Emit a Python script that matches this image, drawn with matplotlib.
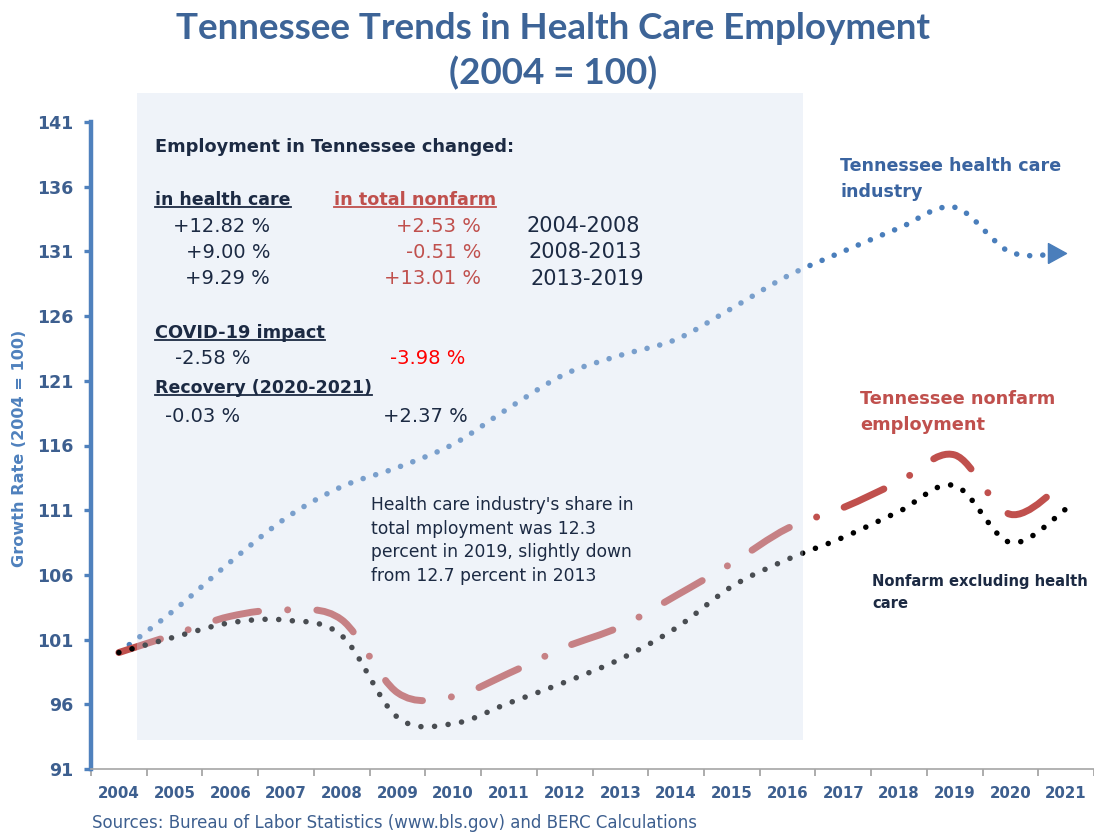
import numpy as np
import matplotlib
matplotlib.use("Agg")
import matplotlib.pyplot as plt
from matplotlib.path import Path
from matplotlib.patches import PathPatch, Rectangle
from matplotlib.lines import Line2D

plt.rcParams['font.family'] = ['DejaVu Sans']

# Index values, 2004 = 100
years = [str(y) for y in range(2004, 2022)]
health_care = [100.0, 103.3, 107.0, 110.4, 112.82, 114.3, 116.1, 118.9, 121.5,
               122.97, 124.2, 126.6, 129.1, 131.0, 132.8, 134.41, 130.94, 130.9]
nonfarm = [100.0, 101.4, 102.8, 103.3, 102.53, 96.9, 96.6, 98.4, 100.4,
           102.0, 104.4, 106.9, 109.6, 111.2, 113.2, 115.27, 110.68, 113.3]
nonfarm_ex_hc = [100.0, 101.2, 102.3, 102.5, 101.3, 95.0, 94.5, 96.1, 97.7,
                 99.5, 101.9, 105.1, 107.2, 108.9, 110.9, 112.9, 108.5, 111.1]
yticks = list(range(91, 142, 5))

W, H = 1094, 833
NAVY = '#1c2a43'
TICK_BLUE = '#3d5f8f'
RED = '#c0504d'


def F(x, y):
    # pixel position -> figure fraction
    return x / W, 1 - y / H


def smooth_path(xs, ys):
    # cubic bezier through every point (spreadsheet-style smoothed line)
    pts = np.column_stack([xs, ys]).astype(float)
    pad = np.vstack([pts[0], pts, pts[-1]])
    verts, codes = [pts[0]], [Path.MOVETO]
    for i in range(len(pts) - 1):
        p0, p1, p2, p3 = pad[i], pad[i + 1], pad[i + 2], pad[i + 3]
        verts += [p1 + (p2 - p0) / 6, p2 - (p3 - p1) / 6, p2]
        codes += [Path.CURVE4] * 3
    return Path(verts, codes)


fig = plt.figure(figsize=(W / 100, H / 100), dpi=100)
ax = fig.add_axes([91 / W, 1 - 769 / H, (W - 91) / W, (769 - 122) / H])

x = np.arange(len(years))

hc_line = PathPatch(smooth_path(x, health_care), fill=False, lw=4, color='#4a7ebb',
                    linestyle=(0, (0.01, 2.35)), capstyle='round', zorder=2)
nf_line = PathPatch(smooth_path(x, nonfarm), fill=False, lw=5, color=RED,
                    linestyle=(0, (6.3, 4.2, 0.01, 4.2)), capstyle='round', zorder=2.1)
ex_line = PathPatch(smooth_path(x, nonfarm_ex_hc), fill=False, lw=4, color='black',
                    linestyle=(0, (0.01, 2.45)), capstyle='round', zorder=2.2)
for p in (hc_line, nf_line, ex_line):
    ax.add_patch(p)

# arrow head on the health care series
ax.plot(x[-1], health_care[-1], linestyle='none', color='#4a7ebb', markersize=26,
        marker=[(-1, -0.55), (0, 0), (-1, 0.55), (-1, -0.55)], zorder=2)

# translucent panel behind the summary text
ax.add_patch(Rectangle((0.0459, 0.0448), 0.664, 1.0, transform=ax.transAxes,
                       facecolor='#d2ddee', alpha=0.35, edgecolor='none',
                       clip_on=False, zorder=3))

ax.set_xlim(-0.5, -0.5 + (W - 91) / 56)
ax.set_ylim(91, 141)
ax.set_yticks(yticks)
ax.set_xticks(x)
ax.set_xticklabels(years)
ax.set_xticks(np.arange(-0.5, len(years), 1), minor=True)
ax.tick_params(axis='x', which='major', length=0, pad=12, labelsize=10.8,
               labelcolor=TICK_BLUE)
ax.tick_params(axis='x', which='minor', length=5, width=1.3, color='#a6a6a6')
for lab in ax.get_xticklabels():
    lab.set_fontweight('bold')
ax.tick_params(axis='y', length=5, width=2.4, color='#4f81bd', pad=8,
               labelsize=12.5, labelcolor=TICK_BLUE)
for lab in ax.get_yticklabels():
    lab.set_fontweight('bold')

ax.spines['top'].set_visible(False)
ax.spines['right'].set_visible(False)
ax.spines['left'].set_color('#4f81bd')
ax.spines['left'].set_linewidth(3.2)
ax.spines['bottom'].set_color('#a6a6a6')
ax.spines['bottom'].set_linewidth(1.2)
ax.set_ylabel('Growth Rate (2004 = 100)', fontsize=11.6, fontweight='bold',
              color='#4f81bd')
ax.yaxis.set_label_coords(-0.064, 0.495)

# title
fig.text(*F(553, 12), 'Tennessee Trends in Health Care Employment\n(2004 = 100)',
         ha='center', va='top', fontsize=26.5, fontweight='bold', color='#3d6497',
         linespacing=1.38, family=['Lato', 'DejaVu Sans'])

# source note
fig.text(*F(92, 823), 'Sources: Bureau of Labor Statistics (www.bls.gov) and BERC Calculations',
         ha='left', va='center', fontsize=12, color=TICK_BLUE)

# summary block
TZ = 5
fig.text(*F(155, 147), 'Employment in Tennessee changed:', ha='left', va='center',
         fontsize=12.8, fontweight='bold', color=NAVY, zorder=TZ)
heads = [
    fig.text(*F(155, 200), 'in health care', ha='left', va='center', fontsize=12.5,
             fontweight='bold', color=NAVY, zorder=TZ),
    fig.text(*F(334, 200), 'in total nonfarm', ha='left', va='center', fontsize=12.7,
             fontweight='bold', color=RED, zorder=TZ),
    fig.text(*F(155, 333), 'COVID-19 impact', ha='left', va='center', fontsize=12.8,
             fontweight='bold', color=NAVY, zorder=TZ),
    fig.text(*F(155, 388), 'Recovery (2020-2021)', ha='left', va='center', fontsize=12.5,
             fontweight='bold', color=NAVY, zorder=TZ),
]

hc_changes = ['+12.82 %', '+9.00 %', '+9.29 %']
nf_changes = ['+2.53 %', '-0.51 %', '+13.01 %']
periods = ['2004-2008', '2008-2013', '2013-2019']
for i, yy in enumerate([226, 252, 279]):
    fig.text(*F(270, yy), hc_changes[i], ha='right', va='center', fontsize=14,
             color=NAVY, zorder=TZ)
    fig.text(*F(481, yy), nf_changes[i], ha='right', va='center', fontsize=14,
             color=RED, zorder=TZ)
    fig.text(*F(526 + 2 * i, yy), periods[i], ha='left', va='center', fontsize=15,
             color=NAVY, zorder=TZ)

fig.text(*F(175, 359), '-2.58 %', ha='left', va='center', fontsize=14, color=NAVY, zorder=TZ)
fig.text(*F(390, 359), '-3.98 %', ha='left', va='center', fontsize=14, color='#ff0000', zorder=TZ)
fig.text(*F(165, 417), '-0.03 %', ha='left', va='center', fontsize=14, color=NAVY, zorder=TZ)
fig.text(*F(383, 417), '+2.37 %', ha='left', va='center', fontsize=14, color=NAVY, zorder=TZ)

fig.text(*F(371, 496), "Health care industry's share in\ntotal mployment was 12.3\n"
         "percent in 2019, slightly down\nfrom 12.7 percent in 2013",
         ha='left', va='top', fontsize=12.3, color=NAVY, linespacing=1.4, zorder=TZ)

# series labels
fig.text(*F(840, 157), 'Tennessee health care\nindustry', ha='left', va='top',
         fontsize=12.6, fontweight='bold', color='#3a64a0', linespacing=1.6, zorder=TZ)
fig.text(*F(860, 390), 'Tennessee nonfarm\nemployment', ha='left', va='top',
         fontsize=12.8, fontweight='bold', color=RED, linespacing=1.6, zorder=TZ)
fig.text(*F(872, 574), 'Nonfarm excluding health\ncare', ha='left', va='top',
         fontsize=10.6, fontweight='bold', color=NAVY, linespacing=1.55, zorder=TZ)

# underline the column headings
fig.canvas.draw()
renderer = fig.canvas.get_renderer()
inv = fig.transFigure.inverted()
for t in heads:
    bb = t.get_window_extent(renderer)
    (x0, y0), (x1, _) = inv.transform([[bb.x0, bb.y0 + 2], [bb.x1, bb.y0 + 2]])
    fig.add_artist(Line2D([x0, x1], [y0, y0], transform=fig.transFigure,
                          color=t.get_color(), lw=1.3, zorder=TZ))

fig.savefig('out.png', dpi=100)
